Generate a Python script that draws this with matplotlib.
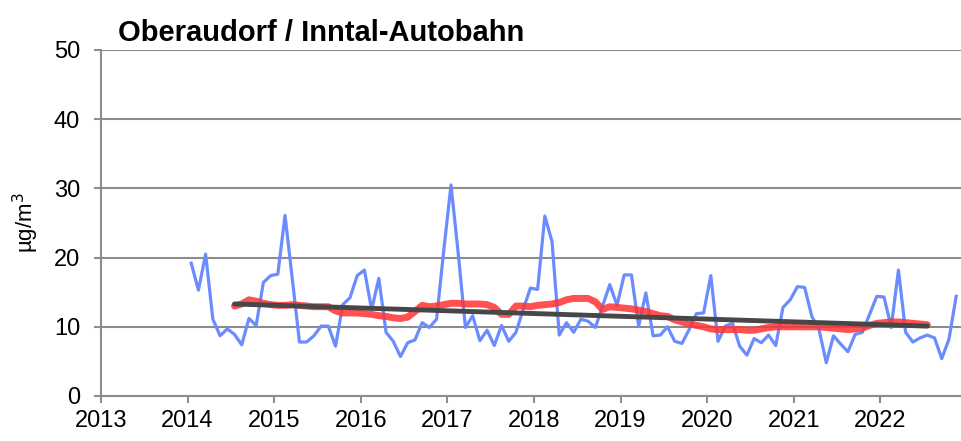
import numpy as np
import matplotlib
matplotlib.use("Agg")
import matplotlib.pyplot as plt

plt.rcParams['font.family'] = ['Liberation Sans', 'DejaVu Sans']

# monthly values Jan 2014 .. Nov 2022 (ug/m3)
monthly = [
    19.2, 15.3, 20.5, 11.1, 8.7, 9.7, 8.9, 7.4, 11.2, 10.2, 16.4, 17.4,   # 2014
    17.6, 26.1, 17.0, 7.8, 7.8, 8.7, 10.1, 10.1, 7.2, 13.2, 14.2, 17.4,   # 2015
    18.2, 12.5, 17.0, 9.2, 7.9, 5.7, 7.7, 8.1, 10.6, 9.9, 11.1, 21.1,    # 2016
    30.5, 20.6, 9.9, 11.6, 8.0, 9.5, 7.3, 10.2, 7.9, 9.2, 12.5, 15.6,    # 2017
    15.4, 26.0, 22.3, 8.8, 10.6, 9.2, 11.1, 10.8, 9.9, 13.0, 16.1, 13.1, # 2018
    17.5, 17.5, 10.1, 14.9, 8.7, 8.8, 10.0, 7.9, 7.6, 9.6, 11.9, 12.0,   # 2019
    17.4, 7.9, 10.1, 10.5, 7.2, 5.9, 8.3, 7.7, 8.8, 7.3, 12.8, 13.9,     # 2020
    15.8, 15.7, 11.5, 9.6, 4.8, 8.7, 7.5, 6.4, 8.9, 9.2, 11.8, 14.4,     # 2021
    14.3, 9.9, 18.2, 9.2, 7.8, 8.4, 8.8, 8.4, 5.4, 8.2, 14.4,           # 2022
]

# running annual mean, Jul 2014 .. Jul 2022
running = [
    13.0, 13.3, 13.9, 13.7, 13.4, 13.2,
    13.1, 13.1, 13.2, 13.1, 13.0, 12.9, 12.9, 12.9, 12.3, 12.0, 12.0, 12.0,
    11.9, 11.8, 11.6, 11.5, 11.3, 11.2, 11.4, 12.2, 13.1, 12.9, 13.0, 13.2,
    13.4, 13.4, 13.3, 13.3, 13.3, 13.2, 12.8, 11.8, 11.8, 13.0, 13.0, 12.9,
    13.1, 13.2, 13.3, 13.5, 13.9, 14.1, 14.1, 14.1, 13.6, 12.5, 12.9, 12.8,
    12.7, 12.6, 12.4, 12.2, 11.9, 11.6, 11.5, 11.0, 10.7, 10.4, 10.2, 10.0,
    9.7, 9.6, 9.6, 9.6, 9.6, 9.5, 9.5, 9.7, 9.9, 10.0, 10.0, 10.0,
    10.0, 10.0, 10.0, 10.0, 9.9, 9.8, 9.7, 9.6, 9.7, 9.8, 10.2, 10.5,
    10.6, 10.7, 10.7, 10.6, 10.5, 10.4, 10.3,
]

trend_months = [6, 102]
trend_values = [13.3, 10.1]

years = list(range(2013, 2023))

t_month = 2014 + (np.arange(len(monthly)) + 0.5) / 12
t_run = 2014 + (np.arange(len(running)) + 6.5) / 12
t_trend = 2014 + (np.array(trend_months) + 0.5) / 12

fig = plt.figure(figsize=(9.61, 4.41), dpi=100)
W, H = 961, 441
ax = fig.add_axes([101 / W, (H - 396) / H, (967 - 101) / W, (396 - 50) / H])

grid_col = '#8c8c8c'
ax.plot(t_month, monthly, color='#6b8cff', lw=2.3, zorder=3, solid_joinstyle='round')
ax.plot(t_run, running, color='#ff3333', lw=5, alpha=0.85, zorder=4, solid_capstyle='round')
ax.plot(t_trend, trend_values, color='#474747', lw=3.5, zorder=5, solid_capstyle='round')

ax.set_xlim(2013, 2023)
ax.set_ylim(0, 50)
ax.set_yticks(range(0, 51, 10))
ax.set_xticks(years)
ax.set_xticklabels([str(y) for y in years])
ax.yaxis.grid(True, color=grid_col, lw=1.5)
ax.set_axisbelow(True)

for s in ['top', 'right']:
    ax.spines[s].set_visible(False)
for s in ['left', 'bottom']:
    ax.spines[s].set_color(grid_col)
    ax.spines[s].set_linewidth(1.5)

ax.tick_params(axis='both', direction='out', length=5, width=1.5, color=grid_col,
               labelsize=17, labelcolor='black')
ax.tick_params(axis='y', pad=10)
ax.tick_params(axis='x', pad=5)

fig.text(118 / W, 1 - 33 / H, 'Oberaudorf / Inntal-Autobahn', fontsize=21,
         fontweight='bold', va='center', ha='left')
fig.text(26 / W, 1 - 223 / H, 'µg/m$^3$', fontsize=16, rotation=90,
         va='center', ha='center')

fig.savefig('out.png', dpi=100)
